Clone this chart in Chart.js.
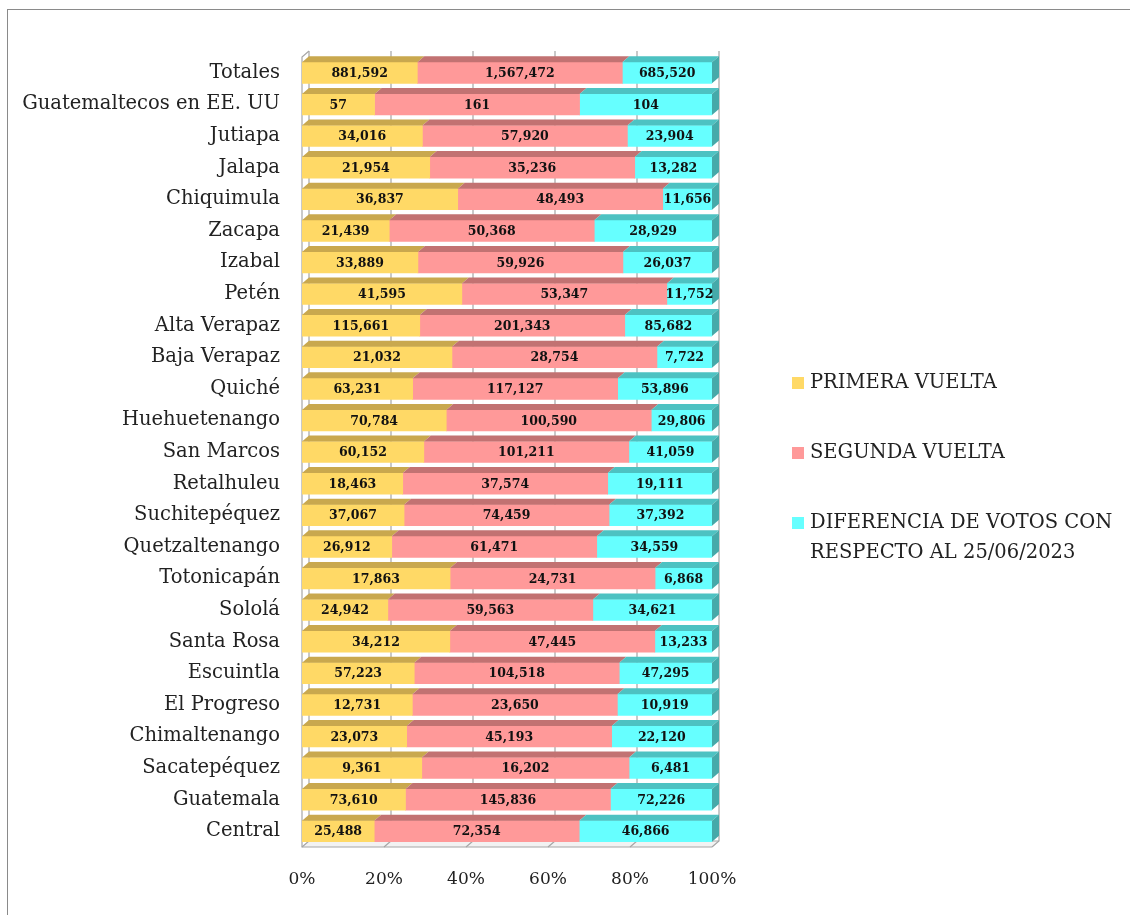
<!DOCTYPE html>
<html>
<head>
<meta charset="utf-8">
<script src="https://cdn.jsdelivr.net/npm/chart.js@4"></script>
<style>
  html, body { margin: 0; padding: 0; background: #fff; }
  #wrap { position: relative; width: 1130px; height: 915px; overflow: hidden; }
  #frame { position: absolute; left: 7px; top: 9px; width: 1140px; height: 920px; border: 1px solid #8a8a8a; box-sizing: border-box; }
  canvas { position: absolute; left: 0; top: 0; }
  #legend { position: absolute; left: 792px; top: 367px; font-family: "DejaVu Serif", serif; font-size: 19.5px; color: #222; }
  .item { position: relative; padding-left: 18px; line-height: 30px; white-space: nowrap; }
  .item span.box { position: absolute; left: 0; top: 10px; width: 12px; height: 12px; }
</style>
</head>
<body>
<div id="wrap">
  <div id="frame"></div>
  <canvas id="chart" width="1130" height="915"></canvas>
  <div id="legend"></div>
</div>
<script>
const categories = [
  "Totales", "Guatemaltecos en EE. UU", "Jutiapa", "Jalapa", "Chiquimula", "Zacapa",
  "Izabal", "Petén", "Alta Verapaz", "Baja Verapaz", "Quiché", "Huehuetenango",
  "San Marcos", "Retalhuleu", "Suchitepéquez", "Quetzaltenango", "Totonicapán",
  "Sololá", "Santa Rosa", "Escuintla", "El Progreso", "Chimaltenango",
  "Sacatepéquez", "Guatemala", "Central"
];
const primeraVuelta = [881592, 57, 34016, 21954, 36837, 21439, 33889, 41595, 115661, 21032,
  63231, 70784, 60152, 18463, 37067, 26912, 17863, 24942, 34212, 57223, 12731, 23073, 9361, 73610, 25488];
const segundaVuelta = [1567472, 161, 57920, 35236, 48493, 50368, 59926, 53347, 201343, 28754,
  117127, 100590, 101211, 37574, 74459, 61471, 24731, 59563, 47445, 104518, 23650, 45193, 16202, 145836, 72354];
const diferencia = [685520, 104, 23904, 13282, 11656, 28929, 26037, 11752, 85682, 7722,
  53896, 29806, 41059, 19111, 37392, 34559, 6868, 34621, 13233, 47295, 10919, 22120, 6481, 72226, 46866];
const seriesNames = ["PRIMERA VUELTA", "SEGUNDA VUELTA", ["DIFERENCIA DE VOTOS CON", "RESPECTO AL 25/06/2023"]];
const xTicks = [0, 20, 40, 60, 80, 100];

const front = ["#FFD966", "#FF9999", "#66FFFF"];
const top3d = ["#C9A84E", "#C27272", "#4DC2C2"];
const side3d = "#45A9A9";
const DX = 7, DY = 6;

const raw = [primeraVuelta, segundaVuelta, diferencia];
const totals = categories.map((c, i) => raw.reduce((s, a) => s + a[i], 0));
const pct = raw.map(a => a.map((v, i) => v / totals[i] * 100));

// back wall grid, floor and 3D faces
const depth = {
  id: "depth",
  beforeDatasetsDraw(chart) {
    const { ctx, chartArea: a, scales: { x } } = chart;
    ctx.save();
    ctx.strokeStyle = "#a6a6a6";
    ctx.lineWidth = 1.2;
    ctx.fillStyle = "#f2f2f2";
    ctx.beginPath();
    ctx.moveTo(a.left, a.bottom); ctx.lineTo(a.right, a.bottom);
    ctx.lineTo(a.right + DX, a.bottom - DY); ctx.lineTo(a.left + DX, a.bottom - DY);
    ctx.closePath(); ctx.fill();
    xTicks.forEach(v => {
      const px = x.getPixelForValue(v);
      ctx.beginPath();
      ctx.moveTo(px + DX, a.top - DY);
      ctx.lineTo(px + DX, a.bottom - DY);
      ctx.lineTo(px, a.bottom);
      ctx.stroke();
    });
    ctx.beginPath();
    ctx.moveTo(a.left + DX, a.top - DY); ctx.lineTo(a.left, a.top);
    ctx.lineTo(a.left, a.bottom); ctx.lineTo(a.right, a.bottom);
    ctx.moveTo(a.left + DX, a.bottom - DY); ctx.lineTo(a.right + DX, a.bottom - DY);
    ctx.stroke();
    ctx.restore();
  },
  afterDatasetsDraw(chart) {
    const ctx = chart.ctx;
    ctx.save();
    chart.data.datasets.forEach((ds, di) => {
      chart.getDatasetMeta(di).data.forEach((bar, i) => {
        const l = Math.min(bar.base, bar.x), r = Math.max(bar.base, bar.x);
        const t = bar.y - bar.height / 2, b = bar.y + bar.height / 2;
        ctx.fillStyle = top3d[di];
        ctx.beginPath();
        ctx.moveTo(l, t); ctx.lineTo(r, t); ctx.lineTo(r + DX, t - DY); ctx.lineTo(l + DX, t - DY);
        ctx.closePath(); ctx.fill();
        if (di === chart.data.datasets.length - 1) {
          ctx.fillStyle = side3d;
          ctx.beginPath();
          ctx.moveTo(r, t); ctx.lineTo(r + DX, t - DY); ctx.lineTo(r + DX, b - DY); ctx.lineTo(r, b);
          ctx.closePath(); ctx.fill();
        }
      });
    });
    // value labels
    ctx.fillStyle = "#111";
    ctx.font = "bold 12.5px 'DejaVu Serif', serif";
    ctx.textAlign = "center";
    ctx.textBaseline = "middle";
    chart.data.datasets.forEach((ds, di) => {
      chart.getDatasetMeta(di).data.forEach((bar, i) => {
        const cx = (bar.base + bar.x) / 2;
        ctx.fillText(raw[di][i].toLocaleString("en-US"), cx, bar.y + 1);
      });
    });
    ctx.restore();
  }
};

const chart = new Chart(document.getElementById("chart"), {
  type: "bar",
  data: {
    labels: categories,
    datasets: pct.map((d, i) => ({
      label: Array.isArray(seriesNames[i]) ? seriesNames[i].join(" ") : seriesNames[i],
      data: d,
      backgroundColor: front[i],
      borderWidth: 0,
      barThickness: 21
    }))
  },
  options: {
    indexAxis: "y",
    responsive: false,
    animation: false,
    layout: { padding: { top: 57, right: 418, bottom: 0, left: 0 } },
    plugins: { legend: { display: false }, tooltip: { enabled: false } },
    scales: {
      x: {
        stacked: true, min: 0, max: 100,
        afterBuildTicks: s => { s.ticks = xTicks.map(v => ({ value: v })); },
        afterFit: s => { s.height = 68; },
        grid: { display: false }, border: { display: false },
        ticks: { padding: 14, color: "#222", font: { family: "'DejaVu Serif', serif", size: 17 }, callback: v => v + "%" }
      },
      y: {
        stacked: true,
        afterFit: s => { s.width = 302; },
        grid: { display: false }, border: { display: false },
        ticks: { padding: 14, color: "#222", font: { family: "'DejaVu Serif', serif", size: 19.5 } }
      }
    }
  },
  plugins: [depth]
});

const legend = document.getElementById("legend");
seriesNames.forEach((name, i) => {
  const div = document.createElement("div");
  div.className = "item";
  div.style.marginBottom = i < 2 ? "40px" : "0";
  const box = document.createElement("span");
  box.className = "box";
  box.style.background = front[i];
  div.appendChild(box);
  const lines = Array.isArray(name) ? name : [name];
  lines.forEach((ln, k) => {
    if (k) div.appendChild(document.createElement("br"));
    div.appendChild(document.createTextNode(ln));
  });
  legend.appendChild(div);
});
</script>
</body>
</html>
